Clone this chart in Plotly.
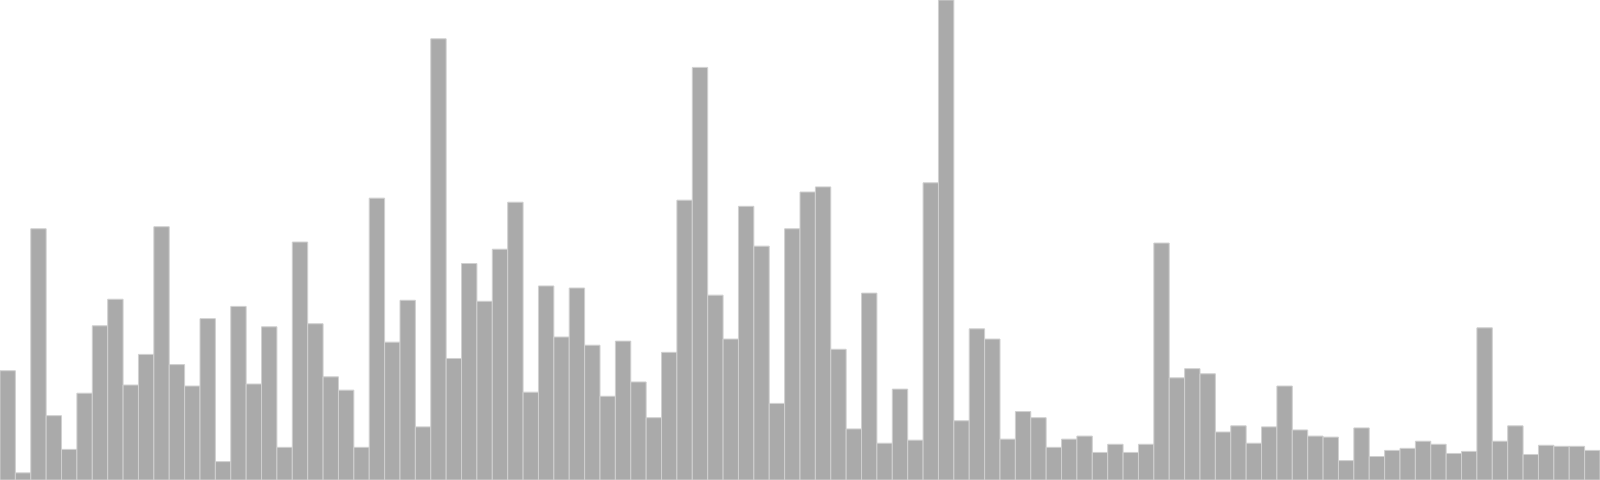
import plotly.graph_objects as go

tops = [363, 463, 224, 407, 440, 385, 319, 293, 377, 347,
        222, 357, 378, 312, 452, 300, 376, 320, 438, 237,
        317, 369, 382, 438, 194, 335, 294, 418, 38, 351,
        258, 295, 244, 198, 384, 280, 330, 282, 338, 388,
        334, 374, 409, 345, 196, 66, 289, 332, 202, 241,
        395, 224, 188, 183, 342, 420, 287, 434, 381, 431,
        179, 0, 412, 322, 332, 430, 403, 409, 438, 430,
        427, 443, 435, 443, 435, 238, 370, 361, 366, 423,
        417, 434, 418, 378, 421, 427, 428, 451, 419, 447,
        441, 439, 432, 435, 444, 442, 321, 432, 417, 445,
        436, 437, 437, 441]
values = [470 - t for t in tops]
categories = list(range(1, len(values) + 1))

fig = go.Figure(go.Bar(
    x=categories, y=values,
    marker=dict(color="#aaaaaa", line=dict(color="#d0d0d0", width=1)),
    hoverinfo="skip",
))
fig.update_layout(
    width=1600, height=480,
    margin=dict(l=0, r=0, t=0, b=0),
    paper_bgcolor="white", plot_bgcolor="white",
    bargap=0, showlegend=False,
    xaxis=dict(visible=False, range=[0.5, len(values) + 0.5]),
    yaxis=dict(visible=False, range=[0, max(values)]),
)
fig.write_html(
    "out.html",
    config={"displayModeBar": False, "staticPlot": True},
    post_script="document.body.style.margin='0';document.body.style.overflow='hidden';",
)
